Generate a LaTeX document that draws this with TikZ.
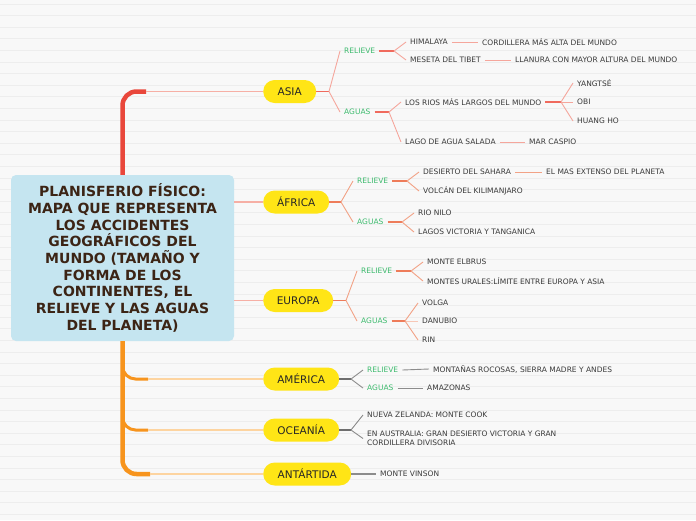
\documentclass[tikz,border=0pt]{standalone}
\usepackage{fontspec}
\setmainfont{DejaVu Sans}
\definecolor{bgc}{HTML}{F8F8F8}
\definecolor{rulec}{HTML}{EDEDED}
\definecolor{yel}{HTML}{FFE516}
\definecolor{tred}{HTML}{E9473B}
\definecolor{tor}{HTML}{F7941D}
\definecolor{lnAc}{HTML}{F5A69C}
\definecolor{stAc}{HTML}{F06A5D}
\definecolor{lnFc}{HTML}{F2A286}
\definecolor{stFc}{HTML}{EE7C5A}
\definecolor{lnGc}{HTML}{8C8C8C}
\definecolor{stGc}{HTML}{6E6E6E}
\definecolor{brAc}{HTML}{F6AFA5}
\definecolor{brOc}{HTML}{FDD4A0}
\definecolor{grn}{HTML}{3DBB6E}
\definecolor{txt}{HTML}{3A3A3A}
\definecolor{ttxt}{HTML}{3C2415}
\definecolor{tfill}{HTML}{C5E5F0}
\tikzset{
  rulel/.style={rulec, line width=0.7pt},
  titlebox/.style={fill=tfill, rounded corners=5pt, minimum width=223pt, minimum height=166pt, align=center, text=ttxt, font=\fontsize{14}{16.7}\selectfont\bfseries, inner sep=0pt},
  cont/.style={fill=yel, rounded corners=11.5pt, minimum height=23pt, inner xsep=0pt, anchor=west, text={black!85}, font=\fontsize{10.5}{12}\selectfont},
  lb/.style={anchor=west, inner xsep=4pt, inner ysep=1pt, text=txt, font=\fontsize{7.5}{9}\selectfont},
  gl/.style={lb, text=grn},
  lnA/.style={lnAc, line width=0.9pt},
  stA/.style={stAc, line width=1.5pt},
  lnF/.style={lnFc, line width=0.9pt},
  lnFl/.style={lnFc!60, line width=0.9pt},
  stF/.style={stFc, line width=1.5pt},
  lnG/.style={lnGc, line width=0.9pt},
  stG/.style={stGc, line width=1.6pt},
  brA/.style={brAc, line width=1.4pt},
  brO/.style={brOc, line width=1.8pt},
}
\begin{document}
\begin{tikzpicture}[x=1pt,y=-1pt]
\fill[bgc] (0,0) rectangle (696,520);
\useasboundingbox (0,0) rectangle (696,520);
\foreach \i in {0,...,44} \draw[rulel] (0,{4+11.6*\i}) -- (696,{4+11.6*\i});

% central node
\node[titlebox] (root) at (122.5,258) {PLANISFERIO FÍSICO:\\MAPA QUE REPRESENTA\\LOS ACCIDENTES\\GEOGRÁFICOS DEL\\MUNDO (TAMAÑO Y\\FORMA DE LOS\\CONTINENTES, EL\\RELIEVE Y LAS AGUAS\\DEL PLANETA)};

% continents
\node[cont, minimum width=53pt] (asia) at (263,91.5) {ASIA};
\node[cont, minimum width=66pt] (afr) at (263,202) {ÁFRICA};
\node[cont, minimum width=70pt] (eur) at (263,300.5) {EUROPA};
\node[cont, minimum width=76pt] (ame) at (263,379) {AMÉRICA};
\node[cont, minimum width=76pt] (oce) at (263,430) {OCEANÍA};
\node[cont, minimum width=88pt] (ant) at (263,474) {ANTÁRTIDA};

% trunk
\coordinate (tA) at (146,91.5);
\coordinate (tM) at (148,379);
\coordinate (tO) at (148,430);
\coordinate (tN) at (150,474);
\draw[tred, line width=4.5pt, rounded corners=14pt] (root.north) -- (122.5,91.5) -- (tA);
\draw[brA] (tA) -- (asia.west);
\draw[brA] (root.east |- afr.west) -- (afr.west);
\draw[brA] (root.east |- eur.west) -- (eur.west);
\draw[tor, line width=4.5pt, rounded corners=14pt] (root.south) -- (122.5,474) -- (tN);
\draw[tor, line width=3pt, rounded corners=13pt] (122.5,360) -- (122.5,379) -- (tM);
\draw[tor, line width=3pt, rounded corners=13pt] (122.5,410) -- (122.5,430) -- (tO);
\draw[brO] (tM) -- (ame.west);
\draw[brO] (tO) -- (oce.west);
\draw[brO] (tN) -- (ant.west);

% ASIA
\coordinate (a0) at (329,91.5);
\node[gl] (arel) at (340,51) {RELIEVE};
\node[gl] (aag) at (340,112) {AGUAS};
\coordinate (a1) at (394,51);
\node[lb] (him) at (406,42) {HIMALAYA};
\node[lb] (met) at (406,60) {MESETA DEL TIBET};
\node[lb] (cord) at (478,42) {CORDILLERA MÁS ALTA DEL MUNDO};
\node[lb] (llan) at (511,60) {LLANURA CON MAYOR ALTURA DEL MUNDO};
\coordinate (a2) at (389,112);
\node[lb] (rios) at (401,102) {LOS RIOS MÁS LARGOS DEL MUNDO};
\node[lb] (lago) at (401,142) {LAGO DE AGUA SALADA};
\node[lb] (casp) at (525,142) {MAR CASPIO};
\coordinate (a3) at (561,102);
\node[lb] (yang) at (573,83) {YANGTSÉ};
\node[lb] (obi) at (573,102) {OBI};
\node[lb] (huang) at (573,121) {HUANG HO};
\draw[stA] (asia.east) -- (a0);
\draw[lnA] (a0) -- (arel.west);
\draw[lnA] (a0) -- (aag.west);
\draw[stA] (arel.east) -- (a1);
\draw[lnA] (a1) -- (him.west);
\draw[lnA] (a1) -- (met.west);
\draw[lnA] (him.east) -- (cord.west);
\draw[lnA] (met.east) -- (llan.west);
\draw[stA] (aag.east) -- (a2);
\draw[lnA] (a2) -- (rios.west);
\draw[lnA] (a2) -- (lago.west);
\draw[lnA] (lago.east) -- (casp.west);
\draw[stA] (rios.east) -- (a3);
\draw[lnA] (a3) -- (yang.west);
\draw[lnA] (a3) -- (obi.west);
\draw[lnA] (a3) -- (huang.west);

% AFRICA
\coordinate (f0) at (341,202);
\node[gl] (frel) at (353,181) {RELIEVE};
\node[gl] (fag) at (353,222) {AGUAS};
\coordinate (f1) at (407,181);
\node[lb] (sah) at (419,172) {DESIERTO DEL SAHARA};
\node[lb] (kil) at (419,191) {VOLCÁN DEL KILIMANJARO};
\node[lb] (ext) at (542,172) {EL MAS EXTENSO DEL PLANETA};
\coordinate (f2) at (402,222);
\node[lb] (nilo) at (414,213) {RIO NILO};
\node[lb] (vict) at (414,232) {LAGOS VICTORIA Y TANGANICA};
\draw[stF] (afr.east) -- (f0);
\draw[lnF] (f0) -- (frel.west);
\draw[lnF] (f0) -- (fag.west);
\draw[stF] (frel.east) -- (f1);
\draw[lnF] (f1) -- (sah.west);
\draw[lnF] (f1) -- (kil.west);
\draw[lnF] (sah.east) -- (ext.west);
\draw[stF] (fag.east) -- (f2);
\draw[lnF] (f2) -- (nilo.west);
\draw[lnF] (f2) -- (vict.west);

% EUROPA
\coordinate (e0) at (346,300.5);
\node[gl] (erel) at (357,271) {RELIEVE};
\node[gl] (eag) at (357,321) {AGUAS};
\coordinate (e1) at (411,271);
\node[lb] (elb) at (423,262) {MONTE ELBRUS};
\node[lb] (ural) at (423,281) {MONTES URALES:LÍMITE ENTRE EUROPA Y ASIA};
\coordinate (e2) at (405,321);
\node[lb] (volga) at (418,303) {VOLGA};
\node[lb] (dan) at (418,321) {DANUBIO};
\node[lb] (rin) at (418,340) {RIN};
\draw[stF] (eur.east) -- (e0);
\draw[lnF] (e0) -- (erel.west);
\draw[lnF] (e0) -- (eag.west);
\draw[stF] (erel.east) -- (e1);
\draw[lnF] (e1) -- (elb.west);
\draw[lnF] (e1) -- (ural.west);
\draw[stF] (eag.east) -- (e2);
\draw[lnF] (e2) -- (volga.west);
\draw[lnFl] (e2) -- (dan.west);
\draw[lnF] (e2) -- (rin.west);

% AMERICA
\coordinate (m0) at (351,379);
\node[gl] (mrel) at (363,370) {RELIEVE};
\node[gl] (mag) at (363,388) {AGUAS};
\node[lb] (roc) at (429,369) {MONTAÑAS ROCOSAS, SIERRA MADRE Y ANDES};
\node[lb] (amaz) at (423,388) {AMAZONAS};
\draw[stG] (ame.east) -- (m0);
\draw[lnG] (m0) -- (mrel.west);
\draw[lnG] (m0) -- (mag.west);
\draw[lnG] (mrel.east) -- (roc.west);
\draw[lnG] (mag.east) -- (amaz.west);

% OCEANIA
\coordinate (o0) at (351,430);
\node[lb] (nz) at (363,415) {NUEVA ZELANDA: MONTE COOK};
\node[lb, align=left] (aus) at (363,438.5) {EN AUSTRALIA: GRAN DESIERTO VICTORIA Y GRAN\\CORDILLERA DIVISORIA};
\draw[stG] (oce.east) -- (o0);
\draw[lnG] (o0) -- (nz.west);
\draw[lnG] (o0) -- (aus.west);

% ANTARTIDA
\node[lb] (vin) at (376,474) {MONTE VINSON};
\draw[lnG, line width=1.2pt] (ant.east) -- (vin.west);
\end{tikzpicture}
\end{document}
